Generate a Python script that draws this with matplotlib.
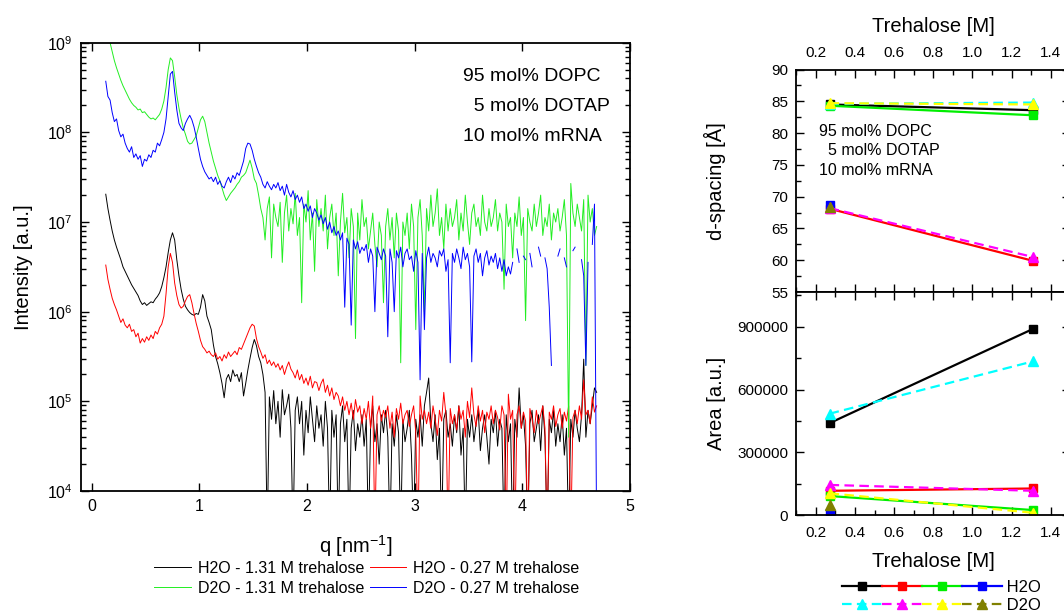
import numpy as np
import matplotlib.pyplot as plt
from matplotlib.ticker import MultipleLocator, LogLocator, NullFormatter, FormatStrFormatter, NullLocator
from matplotlib.lines import Line2D

plt.rcParams['font.family'] = ['Liberation Sans', 'DejaVu Sans']
plt.rcParams['mathtext.fontset'] = 'custom'
plt.rcParams['mathtext.rm'] = 'Liberation Sans'
plt.rcParams['mathtext.it'] = 'Liberation Sans:italic'
plt.rcParams['mathtext.bf'] = 'Liberation Sans:bold'

# SAXS curves, q grid of the measurement (nm^-1), 0.13 ... 4.69 in 0.02 steps
q = np.round(0.13 + 0.02 * np.arange(229), 2)

# log10 of intensity, one row = 10 points (0.2 nm^-1)
log_h2o_131 = [
    7.31, 7.15, 7.02, 6.90, 6.80, 6.72, 6.65, 6.58, 6.50, 6.45,
    6.40, 6.35, 6.30, 6.26, 6.22, 6.18, 6.12, 6.08, 6.10, 6.07,
    6.09, 6.11, 6.10, 6.14, 6.17, 6.21, 6.28, 6.38, 6.50, 6.66,
    6.80, 6.88, 6.80, 6.58, 6.40, 6.25, 6.14, 6.06, 6.02, 5.99,
    5.97, 5.96, 5.98, 5.97, 6.05, 6.19, 6.12, 5.95, 5.88, 5.80,
    5.63, 5.50, 5.42, 5.32, 5.20, 5.04, 5.25, 5.30, 5.22, 5.35,
    5.28, 5.30, 5.22, 5.32, 5.06, 5.20, 5.35, 5.48, 5.60, 5.69,
    5.62, 5.50, 5.43, 5.30, 5.10, 3.50, 5.05, 4.80, 5.12, 4.75,
    5.00, 4.60, 5.13, 4.85, 4.95, 5.08, 4.70, 3.50, 4.90, 5.05,
    4.75, 5.00, 4.40, 4.90, 4.65, 5.05, 4.80, 4.55, 4.95, 4.70,
    4.85, 4.50, 5.00, 4.70, 3.50, 4.90, 4.60, 4.85, 3.50, 4.75,
    4.95, 4.55, 4.80, 3.50, 4.70, 4.90, 4.45, 4.75, 4.60, 4.85,
    4.50, 4.80, 3.50, 4.70, 4.95, 4.55, 4.75, 4.30, 4.85, 4.65,
    4.90, 4.60, 3.50, 4.75, 4.50, 4.85, 4.65, 3.50, 4.80, 4.55,
    4.70, 4.90, 4.40, 3.50, 4.80, 4.60, 4.85, 4.50, 4.95, 5.10,
    5.26, 4.75, 4.55, 4.85, 4.35, 4.70, 3.50, 4.80, 4.90, 4.60,
    4.75, 4.50, 4.85, 4.65, 4.95, 4.40, 4.70, 3.50, 4.80, 4.60,
    4.85, 4.55, 4.75, 4.90, 4.45, 4.70, 4.85, 4.60, 4.30, 4.80,
    4.65, 4.90, 4.50, 4.80, 4.70, 3.50, 4.85, 4.55, 4.75, 3.50,
    4.80, 4.60, 5.15, 4.70, 4.85, 4.50, 3.50, 4.75, 4.90, 4.55,
    4.70, 4.85, 4.45, 4.95, 4.60, 3.50, 4.80, 4.65, 4.90, 4.50,
    4.75, 4.55, 4.85, 4.40, 4.70, 3.50, 4.80, 4.60, 4.90, 4.70,
    4.55, 4.85, 5.47, 4.60, 4.90, 4.75, 4.95, 5.15, 5.10,
]
log_h2o_027 = [
    6.52, 6.36, 6.25, 6.15, 6.08, 6.02, 5.95, 5.88, 5.92, 5.85,
    5.82, 5.86, 5.78, 5.80, 5.72, 5.76, 5.65, 5.70, 5.66, 5.72,
    5.68, 5.74, 5.70, 5.78, 5.75, 5.82, 5.86, 5.95, 6.20, 6.50,
    6.65, 6.55, 6.32, 6.18, 6.08, 6.04, 6.06, 6.12, 6.17, 6.19,
    6.10, 5.98, 5.87, 5.78, 5.68, 5.61, 5.58, 5.54, 5.56, 5.52,
    5.50, 5.54, 5.47, 5.50, 5.45, 5.52, 5.48, 5.55, 5.50, 5.53,
    5.56, 5.52, 5.60, 5.58, 5.64, 5.70, 5.76, 5.82, 5.86, 5.84,
    5.70, 5.61, 5.55, 5.48, 5.52, 5.42, 5.46, 5.40, 5.44, 5.38,
    5.42, 5.35, 5.40, 5.30, 5.38, 5.44, 5.36, 5.32, 5.26, 5.35,
    5.24, 5.30, 5.20, 5.26, 5.18, 5.28, 5.15, 5.22, 5.21, 5.12,
    5.20, 5.25, 5.10, 5.18, 5.06, 5.15, 5.02, 5.10, 5.06, 4.95,
    5.05, 4.90, 5.00, 4.85, 4.98, 4.80, 5.02, 4.88, 4.95, 4.75,
    4.92, 4.80, 5.00, 4.70, 5.06, 3.50, 4.85, 4.95, 4.78, 4.90,
    4.82, 4.95, 4.70, 4.88, 4.60, 4.92, 4.80, 4.98, 4.75, 4.85,
    4.90, 4.72, 4.85, 4.95, 4.65, 3.50, 5.06, 4.80, 4.90, 4.75,
    4.88, 4.70, 4.95, 4.80, 4.62, 4.90, 4.78, 5.10, 4.85, 3.50,
    4.92, 4.75, 4.85, 4.68, 4.95, 4.80, 4.90, 4.60, 5.00, 4.82,
    5.15, 4.85, 4.72, 4.95, 4.78, 4.90, 4.65, 4.88, 4.80, 4.95,
    4.75, 4.90, 4.82, 4.68, 4.95, 4.85, 3.50, 5.08, 4.80, 4.90,
    3.50, 4.85, 4.95, 4.70, 4.88, 4.78, 3.50, 4.92, 4.80, 4.65,
    4.90, 4.75, 4.85, 4.95, 4.70, 3.50, 4.88, 4.80, 4.95, 4.72,
    4.85, 4.92, 4.70, 4.88, 4.78, 4.95, 3.50, 4.82, 4.90, 4.75,
    4.95, 4.80, 5.24, 4.85, 4.90, 4.75, 5.05, 4.88, 4.95,
]
log_d2o_131 = [
    9.25, 9.12, 9.00, 8.90, 8.80, 8.72, 8.65, 8.58, 8.52, 8.47,
    8.42, 8.37, 8.33, 8.30, 8.28, 8.25, 8.26, 8.22, 8.23, 8.20,
    8.17, 8.15, 8.16, 8.14, 8.17, 8.20, 8.26, 8.35, 8.50, 8.70,
    8.83, 8.80, 8.62, 8.42, 8.27, 8.15, 8.05, 7.98, 7.90, 7.87,
    7.88, 7.92, 7.96, 8.05, 8.14, 8.18, 8.12, 8.00, 7.88, 7.78,
    7.68, 7.60, 7.52, 7.46, 7.38, 7.30, 7.24, 7.28, 7.32, 7.35,
    7.38, 7.42, 7.45, 7.50, 7.52, 7.55, 7.62, 7.69, 7.60, 7.48,
    7.43, 7.30, 7.15, 7.05, 6.80, 7.15, 7.28, 6.60, 7.20, 7.05,
    6.95, 7.22, 6.55, 7.10, 7.30, 6.90, 7.15, 6.98, 7.32, 6.85,
    7.05, 6.10, 7.20, 7.00, 7.35, 6.80, 7.10, 6.45, 7.25, 6.95,
    7.15, 6.90, 7.30, 6.70, 7.05, 7.20, 6.85, 7.10, 6.40, 7.00,
    7.32, 6.88, 7.05, 6.60, 7.15, 6.95, 5.70, 7.10, 6.80, 7.25,
    6.95, 7.05, 6.70, 6.90, 7.10, 6.75, 6.50, 7.00, 6.85, 6.10,
    6.95, 7.15, 6.80, 7.05, 6.60, 7.10, 6.90, 5.43, 7.00, 6.85,
    7.10, 6.70, 7.20, 6.95, 5.80, 7.05, 7.25, 6.85, 6.00, 7.15,
    6.90, 7.30, 6.95, 7.10, 7.37, 6.85, 7.05, 6.70, 7.20, 6.90,
    7.15, 6.95, 7.05, 7.25, 6.80, 7.10, 6.90, 7.30, 7.00, 6.75,
    7.10, 7.20, 6.95, 7.05, 6.85, 7.30, 7.00, 6.90, 7.15, 6.95,
    7.05, 7.25, 6.90, 7.10, 7.00, 6.25, 7.20, 6.95, 7.05, 6.60,
    7.10, 6.95, 7.28, 6.85, 7.05, 5.90, 7.15, 7.00, 6.90, 7.20,
    6.95, 7.10, 7.30, 6.85, 7.05, 6.95, 7.20, 6.80, 7.10, 7.00,
    7.15, 6.90, 7.05, 7.25, 6.85, 4.60, 7.43, 7.10, 6.95, 7.20,
    7.05, 6.90, 7.25, 5.40, 7.30, 7.00, 7.15, 6.85, 6.95,
]
nan = np.nan
log_d2o_027 = [
    8.57, 8.40, 8.36, 8.22, 8.12, 8.15, 8.02, 7.95, 7.98, 7.88,
    7.82, 7.78, 7.84, 7.72, 7.76, 7.70, 7.74, 7.62, 7.70, 7.68,
    7.75, 7.72, 7.80, 7.78, 7.88, 7.85, 7.92, 8.00, 8.15, 8.40,
    8.65, 8.68, 8.45, 8.25, 8.10, 8.05, 8.02, 8.10, 8.15, 8.19,
    8.14, 8.06, 7.95, 7.82, 7.70, 7.62, 7.56, 7.52, 7.48, 7.50,
    7.45, 7.50, 7.42, 7.46, 7.40, 7.38, 7.45, 7.50, 7.44, 7.52,
    7.48, 7.55, 7.52, 7.60, 7.68, 7.82, 7.88, 7.87, 7.80, 7.70,
    7.62, 7.55, 7.50, 7.42, 7.38, 7.45, 7.40, 7.36, 7.42, 7.38,
    7.44, 7.35, 7.40, 7.30, 7.42, 7.33, 7.28, 7.35, 7.25, 7.30,
    7.22, 7.28, 7.15, 7.20, 7.12, 7.18, 7.05, 7.15, 7.10, 7.02,
    7.08, 6.98, 7.05, 6.92, 7.00, 6.88, 6.95, 6.85, 6.90, 6.80,
    6.88, 6.05, 6.82, 6.75, 5.85, 6.80, 6.70, 6.78, 6.65, 6.72,
    6.68, 6.75, 6.55, 6.70, 6.62, 6.00, 6.72, 6.65, 6.58, 6.70,
    6.62, 5.72, 6.70, 6.55, 6.00, 6.68, 6.60, 6.72, 6.50, 6.65,
    6.70, 6.58, 6.62, 6.45, 6.68, 6.55, 5.24, 6.65, 5.80, 6.60,
    6.72, 6.55, 6.65, 6.60, 6.50, 6.68, 6.62, 6.70, 6.45, 6.58,
    5.43, 6.65, 6.55, 6.70, 6.60, 6.48, 6.72, 6.58, 6.65, 6.50,
    5.44, 6.62, 6.70, 6.55, 6.65, 6.40, 6.60, 6.68, 6.52, 6.62,
    6.55, 6.65, 6.48, 6.60, 6.45, 6.58, 6.40, 6.50, 6.42, 6.55,
    nan, 6.70, 6.55, nan, 6.62, 6.58, nan, 6.65, 6.50, nan,
    nan, 6.72, 6.62, nan, 6.60, 6.48, 6.05, 5.40, nan, nan,
    6.62, 6.70, nan, 6.60, 6.50, nan, nan, 6.68, 6.72, nan,
    nan, 6.58, 6.40, 5.40, 6.55, nan, 6.75, 7.20, 3.50,
]

curve_labels = ['H2O - 1.31 M trehalose', 'H2O - 0.27 M trehalose',
                'D2O - 1.31 M trehalose', 'D2O - 0.27 M trehalose']
curve_colors = ['black', 'red', '#22ee22', 'blue']

# peak analysis vs trehalose concentration
treh = [0.27, 1.31]
d_h2o_black = [84.5, 83.6]
d_h2o_red = [68.1, 59.9]
d_h2o_green = [84.3, 82.8]
d_h2o_blue = [68.7, nan]
d_d2o_cyan = [84.6, 84.8]
d_d2o_magenta = [68.2, 60.5]
d_d2o_yellow = [84.7, 84.5]
d_d2o_olive = [68.4, nan]

a_h2o_black = [440000, 890000]
a_h2o_red = [117000, 128000]
a_h2o_green = [92000, 25000]
a_h2o_blue = [12000, nan]
a_d2o_cyan = [485000, 735000]
a_d2o_magenta = [145000, 117000]
a_d2o_yellow = [105000, 12000]
a_d2o_olive = [48000, nan]

h2o_colors = ['black', '#ff0000', '#00ee00', '#0000ff']
d2o_colors = ['#00ffff', '#ff00ff', '#ffff00', '#808000']

fig = plt.figure(figsize=(10.64, 6.12), dpi=100)

# ---------- left: SAXS curves ----------
ax = fig.add_axes([81 / 1064, 1 - 491 / 612, 549 / 1064, 448.3 / 612])
for lg, lab, col in zip([log_h2o_131, log_h2o_027, log_d2o_131, log_d2o_027],
                        curve_labels, curve_colors):
    ax.plot(q, 10.0 ** np.array(lg), color=col, lw=0.7, label=lab)
ax.set_yscale('log')
ax.set_xlim(-0.1, 5)
ax.set_ylim(1e4, 1e9)
ax.xaxis.set_major_locator(MultipleLocator(1))
ax.xaxis.set_minor_locator(NullLocator())
ax.yaxis.set_major_locator(LogLocator(base=10, numticks=10))
ax.yaxis.set_minor_locator(LogLocator(base=10, subs=np.arange(2, 10), numticks=20))
ax.yaxis.set_minor_formatter(NullFormatter())
ax.tick_params(which='both', direction='in', top=True, right=True, width=1.0, labelsize=11.5, pad=6)
ax.tick_params(which='major', length=6)
ax.tick_params(which='minor', length=3.5)
for s in ax.spines.values():
    s.set_linewidth(1.3)
ax.set_ylabel('Intensity [a.u.]', fontsize=14.5)
ax.set_xlabel(r'q [nm$^{\mathregular{-1}}$]', fontsize=14.5)
ax.yaxis.set_label_coords(-0.088, 0.5)
ax.xaxis.set_label_coords(0.5, -0.095)
ax.text(0.696, 0.944, '95 mol% DOPC\n  5 mol% DOTAP\n10 mol% mRNA', transform=ax.transAxes,
        fontsize=14, va='top', ha='left', linespacing=2.0)

h, l = ax.get_legend_handles_labels()
order = [0, 2, 1, 3]
fig.legend([h[i] for i in order], [l[i] for i in order], ncol=2, loc='upper left',
           bbox_to_anchor=(154 / 1064, 1 - 561 / 612), frameon=False, fontsize=11.5,
           borderpad=0, borderaxespad=0, handlelength=2.3, handletextpad=0.45,
           columnspacing=0.33, labelspacing=0.3)

# ---------- right: d-spacing and area ----------
axd = fig.add_axes([796.3 / 1064, 1 - 292 / 612, 274 / 1064, 222.5 / 612])
axa = fig.add_axes([796.3 / 1064, 1 - 515.3 / 612, 274 / 1064, 223.3 / 612])

dash = (0, (4.3, 2.4))
h2o_d = [d_h2o_black, d_h2o_red, d_h2o_green, d_h2o_blue]
d2o_d = [d_d2o_cyan, d_d2o_magenta, d_d2o_yellow, d_d2o_olive]
h2o_a = [a_h2o_black, a_h2o_red, a_h2o_green, a_h2o_blue]
d2o_a = [a_d2o_cyan, a_d2o_magenta, a_d2o_yellow, a_d2o_olive]

for axx, hs, ds in [(axd, h2o_d, d2o_d), (axa, h2o_a, d2o_a)]:
    for vals, col in zip(hs, h2o_colors):
        axx.plot(treh, vals, color=col, lw=1.6, marker='s', ms=6, mec=col)
    for vals, col in zip(ds, d2o_colors):
        axx.plot(treh, vals, color=col, lw=1.6, ls=dash, marker='^', ms=7.5, mec=col)
    axx.set_xlim(0.1, 1.5)
    axx.xaxis.set_major_locator(MultipleLocator(0.2))
    axx.xaxis.set_minor_locator(MultipleLocator(0.1))
    axx.tick_params(which='both', direction='in', top=True, right=True, width=1.0,
                    labelsize=11, pad=6)
    axx.tick_params(which='major', length=6)
    axx.tick_params(which='minor', length=3.5)
    for s in axx.spines.values():
        s.set_linewidth(1.3)

axd.set_ylim(55, 90)
axd.yaxis.set_major_locator(MultipleLocator(5))
axd.yaxis.set_minor_locator(MultipleLocator(2.5))
axd.tick_params(axis='x', labelbottom=False, labeltop=True, pad=7)
axd.xaxis.set_major_formatter(FormatStrFormatter('%.1f'))
axd.set_ylabel('d-spacing [Å]', fontsize=14.5)
axd.yaxis.set_label_coords(-0.255, 0.5)
axd.set_xlabel('Trehalose [M]', fontsize=14.5)
axd.xaxis.set_label_position('top')
axd.xaxis.set_label_coords(0.5, 1.17)
axd.text(0.215, 81.4, '95 mol% DOPC\n  5 mol% DOTAP\n10 mol% mRNA', fontsize=11.5,
         va='top', ha='left', linespacing=1.35)

axa.set_ylim(0, 1.066e6)
axa.yaxis.set_major_locator(MultipleLocator(300000))
axa.yaxis.set_minor_locator(MultipleLocator(150000))
axa.yaxis.set_major_formatter(FormatStrFormatter('%d'))
axa.xaxis.set_major_formatter(FormatStrFormatter('%.1f'))
axa.tick_params(axis='x', pad=8)
axa.set_ylabel('Area [a.u.]', fontsize=14.5)
axa.yaxis.set_label_coords(-0.255, 0.5)
axa.set_xlabel('Trehalose [M]', fontsize=14.5)
axa.xaxis.set_label_coords(0.5, -0.163)

# legend: one row per solvent, only the last entry labelled
leg_h, leg_l = [], []
for i in range(4):
    leg_h.append(Line2D([], [], color=h2o_colors[i], lw=1.6, marker='s', ms=6))
    leg_h.append(Line2D([], [], color=d2o_colors[i], lw=1.6, ls=dash, marker='^', ms=7.5))
    leg_l += (['', ''] if i < 3 else [' H2O', ' D2O'])
fig.legend(leg_h, leg_l, ncol=4, loc='upper left', bbox_to_anchor=(842 / 1064, 1 - 580 / 612),
           frameon=False, fontsize=12, borderpad=0, borderaxespad=0, handlelength=2.4,
           handletextpad=0, columnspacing=0, labelspacing=0.15)

fig.savefig('out.png', dpi=100)
